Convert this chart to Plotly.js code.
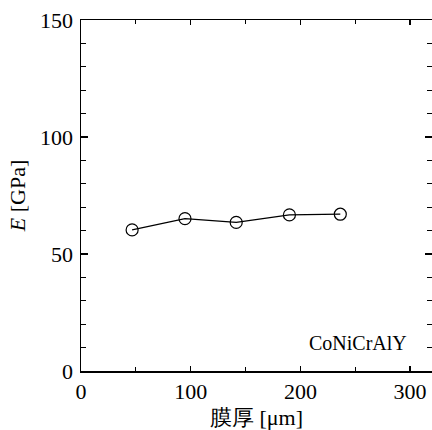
<!DOCTYPE html>
<html><head><meta charset="utf-8">
<script src="https://cdn.plot.ly/plotly-3.0.1.min.js"></script>
<style>html,body{margin:0;padding:0;overflow:hidden;background:#fff;}</style>
</head><body><div id="chart"></div>
<script>
const thickness = [46.6, 94.8, 141.5, 190, 236.4];
const modulus = [60.3, 65.1, 63.5, 66.7, 67.0];
const label = 'CoNiCrAlY';

const fam = 'Liberation Serif';
const trace = {
  x: thickness, y: modulus, type: 'scatter', mode: 'lines+markers',
  line: {color: '#000', width: 1.2},
  marker: {symbol: 'circle-open', size: 12, color: '#000', line: {width: 1.2, color: '#000'}},
  showlegend: false, cliponaxis: false
};
const layout = {
  width: 432, height: 430,
  margin: {l: 81, r: 0, t: 20, b: 59},
  paper_bgcolor: '#fff', plot_bgcolor: '#fff',
  xaxis: {
    range: [0, 320], tickvals: [0, 100, 200, 300], ticks: 'inside', ticklen: 5, tickwidth: 1.2,
    tickcolor: '#000', showline: true, linecolor: '#000', linewidth: 1.5, mirror: 'ticks',
    showgrid: false, zeroline: false, tickfont: {family: fam, size: 22, color: '#000'},
    minor: {tickvals: [50, 150, 250], ticks: 'inside', ticklen: 4, tickcolor: '#000', tickwidth: 1},
    title: {text: '膜厚 [μm]', font: {family: fam, size: 22, color: '#000'}, standoff: 6}
  },
  yaxis: {
    range: [0, 150], tickvals: [0, 50, 100, 150], ticks: 'inside', ticklen: 7, tickwidth: 1.2,
    tickcolor: '#000', showline: true, linecolor: '#000', linewidth: 1.5, mirror: 'ticks',
    showgrid: false, zeroline: false, tickfont: {family: fam, size: 22, color: '#000'},
    minor: {dtick: 10, ticks: 'inside', ticklen: 5, tickcolor: '#000', tickwidth: 1},
    ticklabelstandoff: 2,
    title: {text: '<i>E</i> [GPa]', font: {family: fam, size: 22, color: '#000'}, standoff: 8}
  },
  annotations: [{
    text: label, xref: 'x', yref: 'y', x: 299, y: 12, xanchor: 'right', yanchor: 'middle',
    showarrow: false, font: {family: fam, size: 20, color: '#000'}
  }]
};
Plotly.newPlot('chart', [trace], layout, {staticPlot: true});
</script></body></html>
